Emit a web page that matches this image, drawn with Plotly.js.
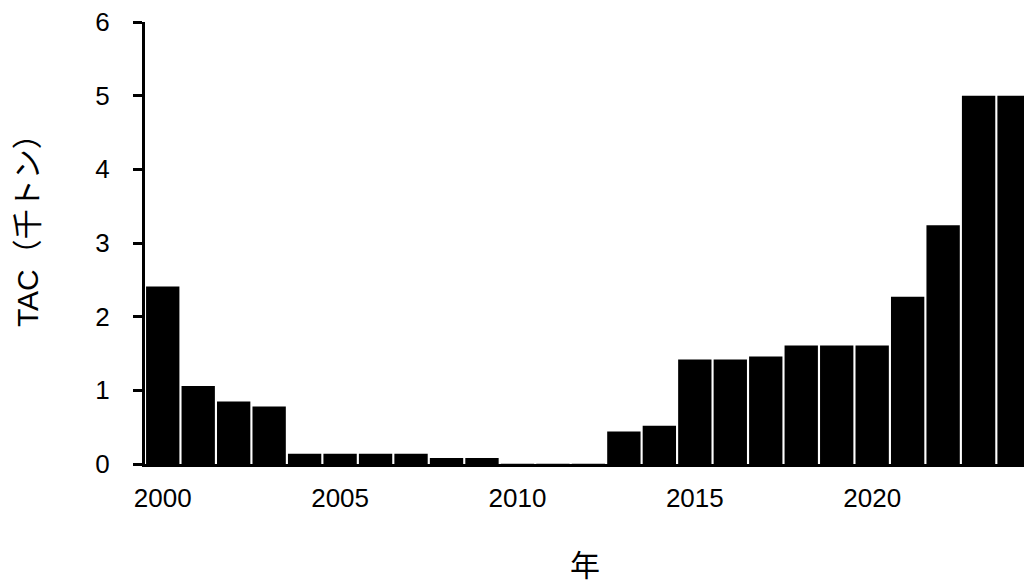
<!DOCTYPE html>
<html>
<head>
<meta charset="utf-8">
<script src="https://cdn.plot.ly/plotly-3.0.1.min.js"></script>
<style>html,body{margin:0;padding:0;background:#fff;}#chart{width:1024px;height:582px;}</style>
</head>
<body>
<div id="chart"></div>
<script>
const years = [2000,2001,2002,2003,2004,2005,2006,2007,2008,2009,2010,2011,2012,2013,2014,2015,2016,2017,2018,2019,2020,2021,2022,2023,2024];
const tac = [2.41,1.06,0.85,0.78,0.14,0.14,0.14,0.14,0.08,0.08,0.005,0.005,0.005,0.44,0.52,1.42,1.42,1.46,1.61,1.61,1.61,2.27,3.24,5.0,5.0];
const xTickVals = [2000,2005,2010,2015,2020];
const yTickVals = [0,1,2,3,4,5,6];
const yTitle = 'TAC（千トン）';
const xTitle = '年';

const fontFam = '"Liberation Sans", Arial, "Noto Sans CJK JP", sans-serif';

const trace = {
  type: 'bar',
  x: years,
  y: tac,
  marker: {color: '#000000', line: {width: 0}},
  hoverinfo: 'skip'
};

const layout = {
  width: 1024, height: 582,
  margin: {l: 145, r: 0, t: 22, b: 118, pad: 0},
  paper_bgcolor: '#ffffff', plot_bgcolor: '#ffffff',
  showlegend: false,
  bargap: 0.06,
  font: {family: fontFam, color: '#000000', size: 26},
  xaxis: {
    range: [1999.5, 2024.28],
    tickvals: xTickVals,
    ticks: '',
    showgrid: false, zeroline: false,
    showline: true, linecolor: '#000000', linewidth: 3,
    tickfont: {family: fontFam, size: 26, color: '#000000'},
    ticklabelstandoff: 9,
    fixedrange: true
  },
  yaxis: {
    range: [0, 6],
    tickvals: yTickVals,
    ticks: 'outside', ticklen: 9, tickwidth: 3, tickcolor: '#000000',
    showgrid: false, zeroline: false,
    showline: true, linecolor: '#000000', linewidth: 3,
    tickfont: {family: fontFam, size: 26, color: '#000000'},
    ticklabelstandoff: 18,
    fixedrange: true
  },
  annotations: [
    {text: yTitle, xref: 'paper', yref: 'paper', x: -0.133, y: 0.5 + 20/441, xanchor: 'center', yanchor: 'middle', textangle: -90, showarrow: false, font: {family: fontFam, size: 30, color: '#000000'}},
    {text: xTitle, xref: 'paper', yref: 'paper', x: 0.5, y: -0.23, xanchor: 'center', yanchor: 'middle', showarrow: false, font: {family: fontFam, size: 30, color: '#000000'}}
  ]
};

Plotly.newPlot('chart', [trace], layout, {displayModeBar: false, staticPlot: true});
</script>
</body>
</html>
